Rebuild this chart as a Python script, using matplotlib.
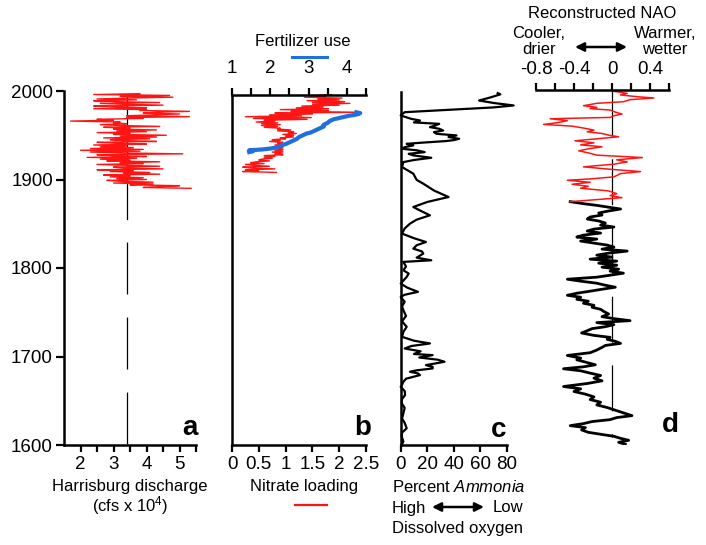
import matplotlib
matplotlib.use('Agg')
import matplotlib.pyplot as plt
from matplotlib.lines import Line2D
import numpy as np

plt.rcParams['font.family'] = ['Liberation Sans', 'DejaVu Sans']
plt.rcParams['mathtext.fontset'] = 'custom'
plt.rcParams['mathtext.rm'] = 'Liberation Sans'
plt.rcParams['mathtext.it'] = 'Liberation Sans:italic'
plt.rcParams['axes.unicode_minus'] = False
plt.rcParams['lines.scale_dashes'] = False

RED = '#ff1414'
BLUE = '#1f6fe0'

# ---- a: Harrisburg discharge (cfs x 10^4), annual from 1890
discharge_start = 1890
discharge = [5.35, 3.9, 4.4, 5.0, 3.5, 4.2, 3.0, 4.2, 3.2, 2.8, 4.0, 3.1,
             3.9, 2.9, 3.5, 2.7, 4.4, 3.3, 4.1, 2.9, 3.6, 2.5, 4.5, 3.3,
             3.0, 4.4, 3.4, 2.5, 3.9, 3.2, 4.4, 2.8, 3.5, 2.6, 3.7, 2.2,
             4.0, 3.0, 2.5, 5.1, 3.3, 2.3, 3.8, 2.0, 3.9, 2.3, 3.6, 2.6,
             3.4, 2.4, 4.0, 3.1, 2.5, 4.3, 3.3, 2.9, 4.1, 2.7, 4.3, 3.2,
             4.6, 3.0, 3.5, 2.5, 4.0, 3.1, 4.3, 3.0, 3.5, 2.7, 4.4, 3.2,
             2.6, 3.4, 3.0, 3.2, 1.7, 3.0, 2.5, 3.9, 3.4, 5.3, 3.4, 4.2,
             5.0, 3.9, 4.3, 5.3, 3.8, 4.0, 2.4, 4.0, 3.1, 2.4, 4.5, 3.3,
             2.6, 4.4, 3.0, 2.4, 3.7, 2.5, 3.4, 4.8, 3.2, 4.7, 2.4, 3.8]
discharge_mean = 3.4

# ---- b: nitrate loading (annual from 1908) and fertilizer use (from 1931)
nitrate_start = 1908
nitrate = [0.83, 0.2, 0.5, 0.25, 0.8, 0.35, 0.2, 0.7, 0.4, 0.25, 0.6, 0.35,
           0.45, 0.7, 0.5, 0.55, 0.75, 0.6, 0.8, 0.6, 0.95, 0.8, 0.95, 0.75,
           0.95, 0.8, 0.95, 0.85, 0.95, 0.8, 0.95, 0.8, 1.0, 0.85, 0.95, 0.7,
           0.9, 0.75, 1.0, 0.9, 1.15, 1.0, 1.15, 0.95, 1.2, 1.05, 1.15, 0.85,
           1.1, 0.85, 0.9, 0.6, 0.85, 0.55, 0.9, 0.55, 0.85, 0.45, 0.8, 0.6,
           1.4, 0.4, 1.48, 0.25, 1.3, 0.7, 1.5, 0.8, 2.4, 1.1, 1.8, 0.9,
           1.8, 1.2, 1.7, 1.3, 2.0, 1.5, 2.2, 1.5, 2.1, 1.4, 2.0, 1.6,
           2.05, 1.35, 1.75, 1.6, 1.85]
fert_start = 1931
fertilizer = [1.45, 1.55, 1.45, 1.8, 2.0, 2.15, 2.2, 2.3, 2.3, 2.4, 2.45, 2.5,
              2.55, 2.6, 2.65, 2.7, 2.72, 2.75, 2.8, 2.85, 2.9, 2.95, 3.05, 3.1,
              3.15, 3.2, 3.25, 3.3, 3.35, 3.4, 3.38, 3.4, 3.45, 3.5, 3.52, 3.55,
              3.6, 3.65, 3.75, 3.85, 3.95, 4.05, 4.2, 4.3, 4.35, 4.25]

# ---- c: percent Ammonia
ammonia_years = [1998.2, 1996.8, 1993.5, 1989.8, 1987, 1984.2, 1982, 1976.6, 1972.9, 1969,
                 1967.2, 1965, 1963.4, 1961.5, 1959.7, 1957.8, 1955.9, 1954, 1952.1, 1950.3,
                 1948.5, 1946.5, 1945, 1943.9, 1942, 1940.8, 1939, 1937, 1935.2, 1933.5,
                 1931.4, 1929.5, 1927.7, 1925, 1922.5, 1920.1, 1914.5, 1907, 1900, 1895.7,
                 1888, 1880.6, 1875, 1869.3, 1865, 1859.9, 1855, 1850.5, 1845, 1839.2,
                 1834, 1829.7, 1826, 1822.2, 1819, 1816.6, 1812, 1809, 1807.2, 1802,
                 1797.7, 1794, 1790.2, 1786, 1782.7, 1778, 1773.3, 1770, 1767.6, 1762,
                 1757, 1752.5, 1746, 1740, 1733.7, 1728, 1722.4, 1718, 1714.9, 1712,
                 1709.2, 1706, 1703, 1701.7, 1699, 1696.5, 1694.2, 1692, 1690.4, 1688.5,
                 1686.6, 1684.5, 1682.9, 1681, 1679.1, 1675, 1671.6, 1668, 1665.9, 1661,
                 1656.5, 1652, 1647.1, 1642, 1635.8, 1630, 1625, 1618.9, 1614, 1609.4,
                 1604, 1601]
ammonia = [73, 75, 68, 59, 70, 85, 70, 3, 0, 8,
           14.5, 10, 29, 26, 22, 29, 32, 25, 27, 42,
           36, 44, 40, 34, 15, 4.5, 9.5, 3, 1, 12,
           18, 6, 9.5, 23, 10, 2, 1, 9.5, 12, 17,
           25, 36, 20, 9.5, 15, 22, 12, 7, 3, 1,
           10, 19, 12, 9.5, 16, 17, 12, 23, 2, 4,
           2, 6, 4.5, 2, 0, 5, 13, 3, 0, 3,
           1, 2, 4, 1, 4.5, 2, 1, 10, 22, 8,
           3, 15, 10, 24, 14, 28, 33, 25, 19, 24,
           24, 12, 7, 13, 14.5, 4, 2, 1, 0, 3,
           3.3, 1, 0.8, 3, 2, 1, 3, 4.5, 1, 0.8,
           2, 1]

# ---- d: reconstructed NAO (red = recent part, black = older part)
nao_red_years = [1998.5, 1996.2, 1994.4, 1992.5, 1991.0, 1989.1, 1986.8, 1985.0, 1982.3, 1980.4,
                 1979.0, 1977.4, 1975.1, 1972.9, 1971.0, 1969.1, 1967.6, 1965.4, 1963.1, 1961.2,
                 1959.3, 1957.1, 1954.8, 1952.9, 1951.0, 1948.8, 1947.3, 1945.0, 1942.8, 1940.5,
                 1938.2, 1936.0, 1933.7, 1931.5, 1929.2, 1926.6, 1923.9, 1921.3, 1919.0, 1916.4,
                 1913.4, 1910.7, 1908.1, 1905.8, 1902.1, 1899.8, 1898.3, 1896.0, 1893.8, 1891.5,
                 1889.3, 1886.3, 1883.2, 1881.0, 1878.7, 1876.5, 1874.2]
nao_red = [0.02, 0.16, 0.09, 0.26, 0.44, 0.19, 0.12, -0.16, -0.30, -0.16,
           -0.23, -0.02, 0.035, 0.105, 0.02, -0.02, -0.65, -0.47, -0.58, -0.72,
           -0.42, -0.30, -0.19, -0.26, -0.105, -0.02, 0.07, -0.16, -0.39, -0.19,
           -0.33, -0.105, -0.25, -0.35, -0.25, -0.16, 0.32, 0.05, 0.16, 0.02,
           -0.30, -0.02, 0.30, 0.09, 0.02, -0.23, -0.47, -0.23, -0.42, -0.25,
           -0.33, -0.035, 0.05, -0.02, 0.105, -0.16, -0.44]
nao_black_years = [1874.2, 1871.9, 1870.0, 1868.2, 1865.9, 1863.7, 1861.4, 1859.1, 1856.9, 1854.6,
                   1852.4, 1850.1, 1847.8, 1845.6, 1843.3, 1841.1, 1838.8, 1836.5, 1834.3, 1832.0,
                   1829.8, 1827.5, 1825.2, 1823.0, 1820.7, 1818.5, 1816.2, 1813.9, 1811.7, 1809.4,
                   1807.2, 1804.9, 1802.6, 1800.4, 1798.1, 1795.9, 1793.6, 1791.3, 1789.1, 1786.8,
                   1784.6, 1782.3, 1780.0, 1777.8, 1775.5, 1773.3, 1771.0, 1768.7, 1766.5, 1764.2,
                   1762.0, 1759.7, 1757.4, 1755.2, 1752.9, 1750.7, 1747.6, 1744.6, 1742.4, 1740.1,
                   1737.9, 1735.6, 1733.3, 1731.1, 1728.8, 1726.2, 1723.5, 1721.3, 1719.0, 1716.8,
                   1714.5, 1712.2, 1710.0, 1707.0, 1704.0, 1700.9, 1697.9, 1696.0, 1693.4, 1690.4,
                   1688.1, 1685.9, 1683.6, 1681.0, 1678.3, 1675.3, 1672.3, 1669.3, 1665.9, 1663.3,
                   1660.3, 1657.3, 1654.2, 1651.2, 1648.2, 1645.2, 1642.2, 1639.2, 1636.2, 1633.1,
                   1630.9, 1628.6, 1626.4, 1624.1, 1621.8, 1619.6, 1617.0, 1614.3, 1612.1, 1609.8,
                   1607.5, 1605.3, 1603.0, 1600.8]
nao_black = [-0.44, -0.30, -0.16, -0.05, 0.09, -0.035, -0.14, -0.105, -0.23, -0.26,
             -0.14, -0.07, -0.12, 0.02, -0.19, -0.26, -0.12, -0.30, -0.37, -0.16,
             -0.33, -0.19, -0.05, 0.02, -0.105, 0.16, -0.035, -0.16, 0.0, -0.23,
             0.05, -0.14, 0.05, -0.105, 0.07, -0.02, 0.12, -0.02, -0.16, -0.47,
             -0.33, -0.16, -0.07, 0.035, -0.105, -0.23, -0.37, -0.47, -0.33, -0.37,
             -0.25, -0.30, -0.19, -0.21, -0.12, -0.09, -0.035, -0.105, 0.02, 0.19,
             -0.16, 0.02, -0.07, -0.21, -0.26, -0.32, -0.19, -0.02, -0.05, 0.035,
             0.09, -0.07, -0.105, -0.16, -0.23, -0.47, -0.33, -0.37, -0.28, -0.175,
             -0.30, -0.51, -0.33, -0.23, -0.12, -0.19, -0.105, -0.26, -0.51, -0.33,
             -0.40, -0.28, -0.19, -0.23, -0.12, -0.16, -0.05, 0.035, 0.12, 0.21,
             0.05, -0.02, -0.21, -0.30, -0.44, -0.28, -0.32, -0.25, -0.12, 0.02,
             0.09, 0.175, 0.07, 0.14]
nao_zero = 0.0

W, H = 706, 545
fig = plt.figure(figsize=(W / 100, H / 100), dpi=100)


def rect(x0, y0, x1, y1):
    # pixel box (top-left origin) -> figure fraction
    return [x0 / W, 1 - y1 / H, (x1 - x0) / W, (y1 - y0) / H]


def fpos(x, y):
    return x / W, 1 - y / H


SP = 1.8
TICK = dict(direction='out', width=1.6, labelsize=13.5, color='k')


def clean(ax, keep):
    for s in ['left', 'right', 'top', 'bottom']:
        ax.spines[s].set_visible(s in keep)
        ax.spines[s].set_linewidth(SP)
    ax.patch.set_alpha(0)


# ---------------- a
axa = fig.add_axes(rect(64, 91, 196, 445))
clean(axa, ['left', 'bottom'])
axa.set_xlim(1.5, 5.5)
axa.set_ylim(1600, 2000)
axa.set_yticks([1600, 1700, 1800, 1900, 2000])
axa.set_xticks([2, 3, 4, 5])
axa.set_xticks([2.5, 3.5, 4.5, 5.5], minor=True)
axa.tick_params(axis='y', length=6, pad=2, **TICK)
axa.tick_params(axis='x', which='both', length=5, pad=3, **TICK)
axa.tick_params(axis='x', which='minor', labelbottom=False)
yrs_a = np.arange(discharge_start, discharge_start + len(discharge))
axa.plot([discharge_mean, discharge_mean], [1995, 1855], color='k', lw=0.9)
axa.plot([discharge_mean, discharge_mean], [1855, 1600], color='k', lw=0.9,
         linestyle=(37.4, (37.4, 16.6)))
axa.plot(discharge, yrs_a, color=RED, lw=1.0)

# ---------------- b
axb = fig.add_axes(rect(232, 95, 366, 445))
clean(axb, ['left', 'bottom'])
axb.set_xlim(0, 2.5)
axb.set_ylim(1600, 1995.5)
axb.set_xticks([0, 0.5, 1, 1.5, 2, 2.5])
axb.set_xticklabels(['0', '0.5', '1', '1.5', '2', '2.5'])
axb.set_yticks([])
axb.tick_params(axis='x', length=5, pad=3, **TICK)
axb2 = axb.twiny()
clean(axb2, ['top'])
axb2.set_xlim(1, 4.5)
axb2.set_xticks([1, 2, 3, 4])
axb2.set_xticks([1.5, 2.5, 3.5, 4.5], minor=True)
axb2.tick_params(axis='x', which='both', length=5, pad=8, **TICK)
axb2.tick_params(axis='x', which='minor', labeltop=False)
yrs_n = np.arange(nitrate_start, nitrate_start + len(nitrate))
yrs_f = np.arange(fert_start, fert_start + len(fertilizer))
axb.plot(nitrate, yrs_n, color=RED, lw=1.0, clip_on=False)
axb2.plot(fertilizer, yrs_f, color=BLUE, lw=3.0, clip_on=False)

# ---------------- c
axc = fig.add_axes(rect(400.7, 91.5, 507, 445))
clean(axc, ['left', 'bottom'])
axc.set_xlim(0, 80)
axc.set_ylim(1600, 2000)
axc.set_xticks([0, 20, 40, 60, 80])
axc.set_yticks([])
axc.tick_params(axis='x', length=5, pad=3, **TICK)
axc.plot(ammonia, ammonia_years, color='k', lw=1.6, clip_on=False)

# ---------------- d
axd = fig.add_axes(rect(536, 90, 669, 445))
clean(axd, ['top'])
axd.set_xlim(-0.8, 0.6)
axd.set_ylim(1600, 2000)
axd.xaxis.set_ticks_position('top')
axd.set_xticks([-0.8, -0.4, 0, 0.4])
axd.set_xticklabels(['-0.8', '-0.4', '0', '0.4'])
axd.set_xticks([-0.6, -0.2, 0.2, 0.6], minor=True)
axd.set_yticks([])
axd.tick_params(axis='x', which='both', length=5, pad=4, top=True, bottom=False, **TICK)
axd.tick_params(axis='x', which='minor', labeltop=False)
axd.plot([nao_zero, nao_zero], [2000, 1609], color='k', lw=0.9,
         linestyle=(0, (33, 16.5)))
axd.plot(nao_black, nao_black_years, color='k', lw=2.0)
axd.plot(nao_red, nao_red_years, color=RED, lw=1.1)

# ---------------- panel letters
for (x, y), s in zip([(190, 428), (363, 428), (499, 430), (670, 425)], 'abcd'):
    fig.text(*fpos(x, y), s, fontsize=20, fontweight='bold', ha='center', va='center')

# ---------------- labels
LBL = dict(fontsize=12, ha='center', va='center')
fig.text(*fpos(130, 487), 'Harrisburg discharge', **LBL)
fig.text(*fpos(130, 506), r'(cfs x 10$^4$)', **LBL)
fig.text(*fpos(304, 487), 'Nitrate loading', **LBL)
fig.add_artist(Line2D([295 / W, 327 / W], [1 - 505 / H] * 2, color=RED, lw=1.6))
fig.text(*fpos(303, 42), 'Fertilizer use', **LBL)
fig.add_artist(Line2D([292 / W, 327 / W], [1 - 56.5 / H] * 2, color=BLUE, lw=2.2))
fig.text(*fpos(459, 487), r'Percent $\it{Ammonia}$', **LBL)
fig.text(*fpos(392, 508), 'High', fontsize=12, ha='left', va='center')
fig.text(*fpos(523, 508), 'Low', fontsize=12, ha='right', va='center')
fig.text(*fpos(458, 529), 'Dissolved oxygen', **LBL)
fig.text(*fpos(602, 13), 'Reconstructed NAO', **LBL)
fig.text(*fpos(539, 41.5), 'Cooler,\ndrier', linespacing=1.0, **LBL)
fig.text(*fpos(665, 41.5), 'Warmer,\nwetter', linespacing=1.0, **LBL)

ARR = dict(arrowstyle='<|-|>', color='k', lw=1.8, mutation_scale=13,
           shrinkA=0, shrinkB=0)
fig.add_artist(matplotlib.patches.FancyArrowPatch(fpos(432, 507), fpos(484, 507),
                                                  transform=fig.transFigure, **ARR))
fig.add_artist(matplotlib.patches.FancyArrowPatch(fpos(575, 47), fpos(627, 47),
                                                  transform=fig.transFigure, **ARR))

fig.savefig('out.png', dpi=100)
